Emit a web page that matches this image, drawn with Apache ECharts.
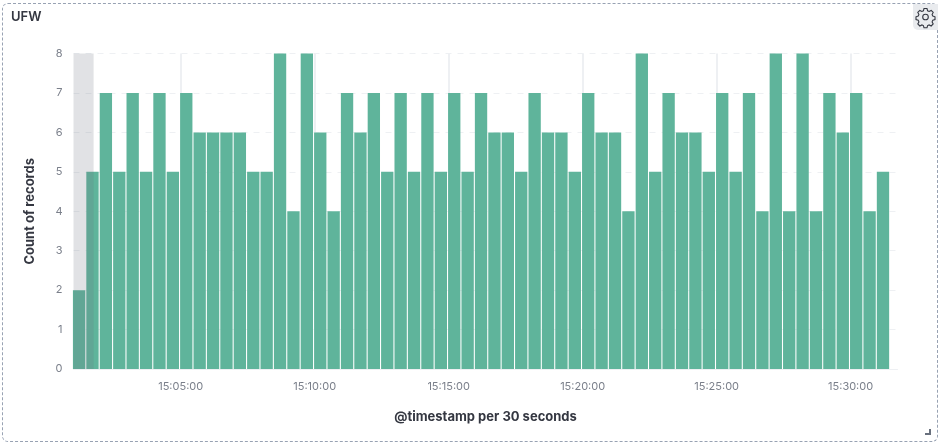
<!DOCTYPE html>
<html>
<head>
<meta charset="utf-8">
<title>UFW</title>
<script src="https://cdn.jsdelivr.net/npm/echarts@6/dist/echarts.min.js"></script>
<style>
  html, body { margin: 0; padding: 0; background: #fff; }
  body { width: 941px; height: 445px; position: relative; overflow: hidden; font-family: Inter, sans-serif; }
  #panel {
    position: absolute; left: 2px; top: 3px; width: 936px; height: 439px;
    border: 1px dashed #98a2b3; border-radius: 6px; box-sizing: border-box;
  }
  #title {
    position: absolute; left: 11px; top: 8px; font-size: 13px; line-height: 17px;
    font-weight: 600; color: #343741;
  }
  #gear {
    position: absolute; left: 913px; top: 4px; width: 25px; height: 26px;
    background: #e9ebee; border-radius: 0 0 0 5px;
  }
  #corner {
    position: absolute; left: 925px; top: 429px; width: 6px; height: 6px;
    border-right: 2px solid #69707d; border-bottom: 2px solid #69707d; box-sizing: border-box;
  }
  #chart { position: absolute; left: 0; top: 0; width: 941px; height: 445px; }
</style>
</head>
<body>
<div id="chart"></div>
<div id="panel"></div>
<div id="title">UFW</div>
<div id="gear">
  <svg width="25" height="26" viewBox="0 0 25 26" fill="none" stroke="#343741" stroke-width="1.1">
    <path d="M11 4.5h3l.6 2.3 1.5.7 2.1-1.1 2 2-1.1 2.1.7 1.6 2.2.7v2.8l-2.2.7-.7 1.6 1.1 2.1-2 2-2.1-1.1-1.5.7-.6 2.2h-3l-.6-2.2-1.5-.7-2.1 1.1-2-2 1.100-2.100-.7-1.600-2.200-.7v-2.800l2.200-.7.7-1.600-1.100-2.100 2-2 2.100 1.100 1.500-.7z"/>
    <circle cx="12.500" cy="13" r="2.800"/>
  </svg>
</div>
<div id="corner"></div>

<script>
const at = (h, m, s) => new Date(2021, 0, 1, h, m, s).getTime();

// count per 30 second bucket, first bucket starts 15:01:00
const startTime = at(15, 1, 0);
const endTime = at(15, 31, 45);
const bucketMs = 30000;
const counts = [
  2, 5, 7, 5, 7, 5, 7, 5, 7, 6,
  6, 6, 6, 5, 5, 8, 4, 8, 6, 4,
  7, 6, 7, 5, 7, 5, 7, 5, 7, 5,
  7, 6, 6, 5, 7, 6, 6, 5, 7, 6,
  6, 4, 8, 5, 7, 6, 6, 5, 7, 5,
  7, 4, 8, 4, 8, 4, 7, 6, 7, 4,
  5
];
const tickTimes = [at(15, 5, 0), at(15, 10, 0), at(15, 15, 0), at(15, 20, 0), at(15, 25, 0), at(15, 30, 0)];
const bandStart = at(15, 1, 0);
const bandEnd = at(15, 1, 45);

// bars are centred on the middle of their bucket
const barData = counts.map((c, i) => [startTime + bucketMs * i + bucketMs / 2, c]);

const pad = n => String(n).padStart(2, "0");
const fmtTime = v => {
  const d = new Date(v);
  return pad(d.getHours()) + ":" + pad(d.getMinutes()) + ":" + pad(d.getSeconds());
};

const chart = echarts.init(document.getElementById("chart"), null, { renderer: "canvas" });
chart.setOption({
  animation: false,
  textStyle: { fontFamily: "Inter, sans-serif" },
  grid: { left: 73.5, right: 43.5, top: 53.5, bottom: 76 },
  xAxis: {
    type: "value",
    min: startTime,
    max: endTime,
    containShape: false,
    scale: true,
    name: "@timestamp per 30 seconds",
    nameLocation: "middle",
    nameGap: 42,
    nameTextStyle: { color: "#343741", fontSize: 13, fontWeight: 700 },
    axisLine: { show: true, onZero: false, lineStyle: { color: "#eef0f3", width: 1 } },
    axisTick: { show: false, customValues: tickTimes },
    axisLabel: {
      color: "#7a7f8a", fontSize: 11, margin: 12,
      customValues: tickTimes,
      formatter: fmtTime
    },
    splitLine: { show: true, lineStyle: { color: "#eef0f3", width: 2 } }
  },
  yAxis: {
    type: "value",
    min: 0,
    max: 8,
    interval: 1,
    name: "Count of records",
    nameLocation: "middle",
    nameGap: 37,
    nameTextStyle: { color: "#343741", fontSize: 13, fontWeight: 700 },
    axisLine: { show: false },
    axisTick: { show: false },
    axisLabel: { color: "#7a7f8a", fontSize: 11, margin: 11, padding: [2, 0, 0, 0] },
    splitLine: { show: true, lineStyle: { color: "#eef0f3", width: 1, type: [6, 6] } }
  },
  series: [
    {
      type: "bar",
      data: barData,
      barWidth: "92%",
      itemStyle: { color: "#5fb49b" },
      z: 2
    },
    {
      type: "bar",
      data: [],
      z: 5,
      markArea: {
        silent: true,
        z: 5,
        itemStyle: { color: "rgba(105,112,125,0.2)" },
        data: [[{ xAxis: bandStart, yAxis: 0 }, { xAxis: bandEnd, yAxis: 8 }]]
      }
    }
  ]
});
</script>
</body>
</html>
